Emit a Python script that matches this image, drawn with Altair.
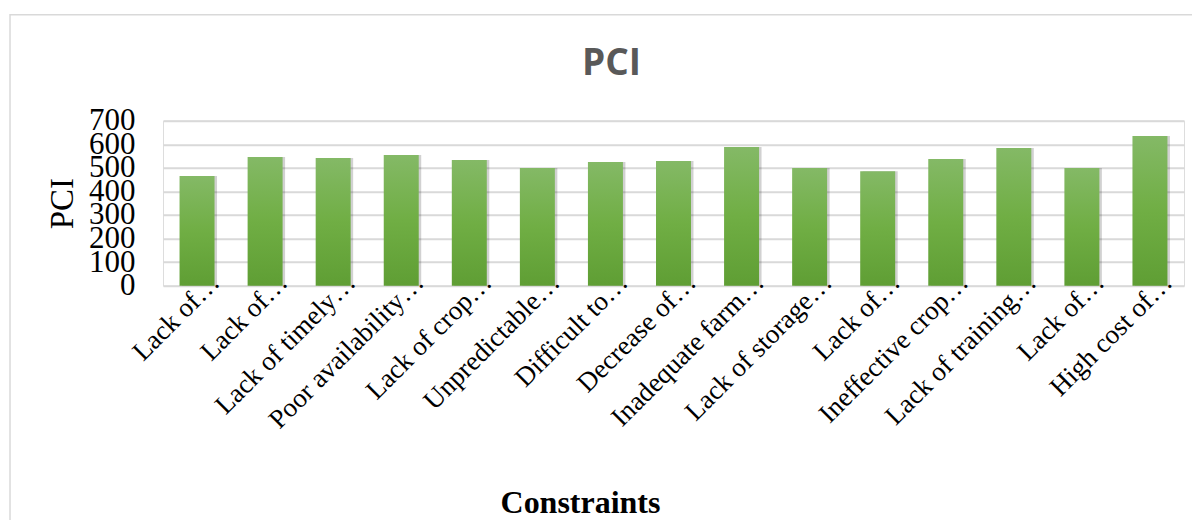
import altair as alt
import pandas as pd

labels = [
    "Lack of…", "Lack of…", "Lack of timely…", "Poor availability…",
    "Lack of crop…", "Unpredictable…", "Difficult to…", "Decrease of…",
    "Inadequate farm…", "Lack of storage…", "Lack of…", "Ineffective crop…",
    "Lack of training…", "Lack of…", "High cost of…",
]
pci = [465, 546, 542, 554, 533, 499, 525, 529, 588, 499, 486, 537, 584, 499, 635]
ids = list(range(len(labels)))
y_ticks = [0, 100, 200, 300, 400, 500, 600, 700]

df = pd.DataFrame({"id": ids, "label": labels, "PCI": pci})
label_js = "[" + ",".join("'" + l + "'" for l in labels) + "]"

SERIF = "Liberation Serif"

x_enc = alt.X(
    "id:O", sort=None, title="Constraints",
    scale=alt.Scale(paddingInner=0.486, paddingOuter=0.243),
    axis=alt.Axis(
        labelExpr=f"{label_js}[datum.value]",
        labelAngle=-45, labelAlign="right", labelBaseline="alphabetic",
        labelPadding=-2, labelOffset=24, labelFont=SERIF, labelFontSize=27,
        labelColor="#000000", labelOverlap=False, labelLimit=500,
        ticks=False, domain=False,
        titleFont=SERIF, titleFontSize=32, titleFontWeight="bold",
        titleColor="#000000", titleX=417, titleY=227,
        titleAlign="center", titleBaseline="alphabetic",
    ),
)
y_enc = alt.Y(
    "PCI:Q",
    scale=alt.Scale(domain=[0, 700], nice=False),
    axis=alt.Axis(
        values=y_ticks, title="PCI",
        titleFont=SERIF, titleFontSize=33, titleFontWeight="normal",
        titleColor="#000000", titleX=-101, titleY=82.5,
        titleAlign="center", titleBaseline="middle",
        labelFont=SERIF, labelFontSize=31, labelColor="#000000",
        labelPadding=28, labelOverlap=False,
        ticks=False, domain=False,
        gridColor="#d9d9d9", gridWidth=2,
    ),
)

grad = alt.LinearGradient(
    gradient="linear",
    stops=[
        alt.GradientStop(color="#84b966", offset=0),
        alt.GradientStop(color="#70ae44", offset=0.5),
        alt.GradientStop(color="#5f9e34", offset=1),
    ],
    x1=0, x2=0, y1=0, y2=1,
)

base = alt.Chart(df)
shadow = base.mark_bar(color="#000000", opacity=0.18).encode(
    x=x_enc, y=y_enc, xOffset=alt.value(2.5)
)
bars = base.mark_bar(color=grad).encode(x=x_enc, y=y_enc)

frame = alt.Chart(pd.DataFrame({"a": [0]})).mark_rect(
    fill=None, stroke="#d9d9d9", strokeWidth=1.5
).encode(
    x=alt.value(-153), x2=alt.value(1052),
    y=alt.value(-106), y2=alt.value(410),
)

chart = alt.layer(frame, shadow, bars).properties(
    width=1021, height=165,
    title=alt.TitleParams(
        "PCI", font="Open Sans", fontSize=37, fontWeight="bold",
        color="#595959", anchor="middle", frame="group", dx=-62,
        baseline="alphabetic", offset=-98.3,
    ),
    autosize=alt.AutoSizeParams(type="none"),
    padding={"left": 155, "top": 112.7, "right": 8, "bottom": 240},
).configure_view(stroke=None).configure(background="white")

chart.save("out.html", embed_options={"renderer": "svg", "actions": False})
